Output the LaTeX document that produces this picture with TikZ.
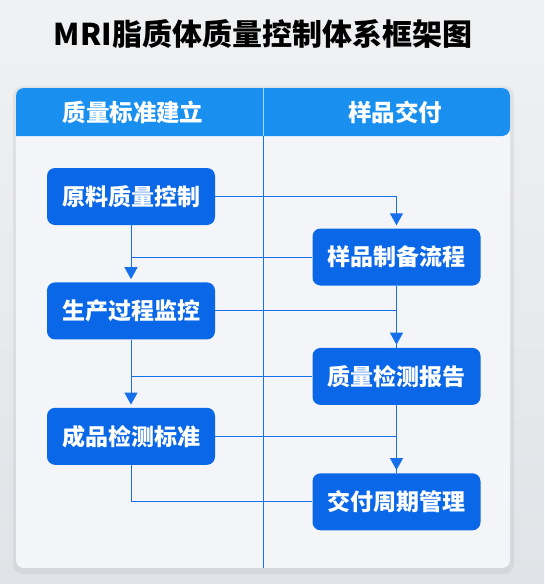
\documentclass[tikz,border=0pt]{standalone}
\usepackage{fontspec}
\setmainfont{Noto Sans CJK SC}
\usetikzlibrary{arrows.meta,positioning}
\definecolor{PageGray}{RGB}{224,227,231}
\definecolor{PageLight}{RGB}{240,241,243}
\definecolor{PanelFill}{RGB}{243,245,248}
\definecolor{HeadBlue}{RGB}{25,144,240}
\definecolor{BoxBlue}{RGB}{10,104,232}
\definecolor{LineBlue}{RGB}{22,112,236}
\tikzset{
  stagebox/.style={draw=none,rounded corners=8pt,fill=BoxBlue,
    minimum width=168pt,minimum height=57pt,inner sep=0pt,align=center,
    text=white,font=\fontsize{23}{26}\selectfont\bfseries},
  lanehead/.style={text=white,font=\fontsize{23.5}{27}\selectfont\bfseries},
  flow/.style={-{Triangle[width=13pt,length=12pt]},LineBlue,line width=1pt,shorten >=3pt},
  link/.style={LineBlue,line width=1pt}
}

\begin{document}
\begin{tikzpicture}[x=1pt,y=1pt]
      % page and panel
      \shade[top color=PageLight,bottom color=PageGray] (0,0) rectangle (544,-584);
      \useasboundingbox (0,0) rectangle (544,-584);
      \node[font=\fontsize{30}{34}\selectfont\bfseries] (title) at (263,-34) {MRI脂质体质量控制体系框架图};
      \fill[black,opacity=0.05,rounded corners=10pt] (13,-86) rectangle (514,-574);
      \fill[PanelFill,rounded corners=8pt] (16,-88) rectangle (510,-568);
      \fill[HeadBlue,rounded corners=8pt] (16,-136) -- (16,-88) -- (510,-88) -- (510,-136) [sharp corners] -- cycle;
      \draw[white,opacity=0.6,line width=0.8pt] (263.5,-88) -- (263.5,-136);
      \draw[LineBlue,line width=1pt] (263.5,-136) -- (263.5,-568);
      \node[lanehead] (qhead) at (133,-112) {质量标准建立};
      \node[lanehead] (shead) at (395,-112) {样品交付};
      % stages
      \node[stagebox] (rawctrl) at (131,-196.5) {原料质量控制};
      \node[stagebox,below=57pt of rawctrl] (procmon) {生产过程监控};
      \node[stagebox,below=68pt of procmon] (finaltest) {成品检测标准};
      \node[stagebox] (prep) at (396.5,-257) {样品制备流程};
      \node[stagebox,below=62pt of prep] (report) {质量检测报告};
      \node[stagebox,below=68pt of report] (delivery) {交付周期管理};
      % connectors
      \draw[flow] (rawctrl.east) -| (prep.north);
      \draw[flow] (rawctrl.south) -- (procmon.north);
      \draw[link] (prep.west) -- (prep.west -| rawctrl.south);
      \draw[flow] (procmon.east) -| (report.north);
      \draw[link] (prep.south) -- (report.north);
      \draw[flow] (procmon.south) -- (finaltest.north);
      \draw[link] (report.west) -- (report.west -| procmon.south);
      \draw[flow] (finaltest.east) -| (delivery.north);
      \draw[link] (report.south) -- (delivery.north);
      \draw[link] (finaltest.south) |- (delivery.west);
    \end{tikzpicture}
\end{document}
